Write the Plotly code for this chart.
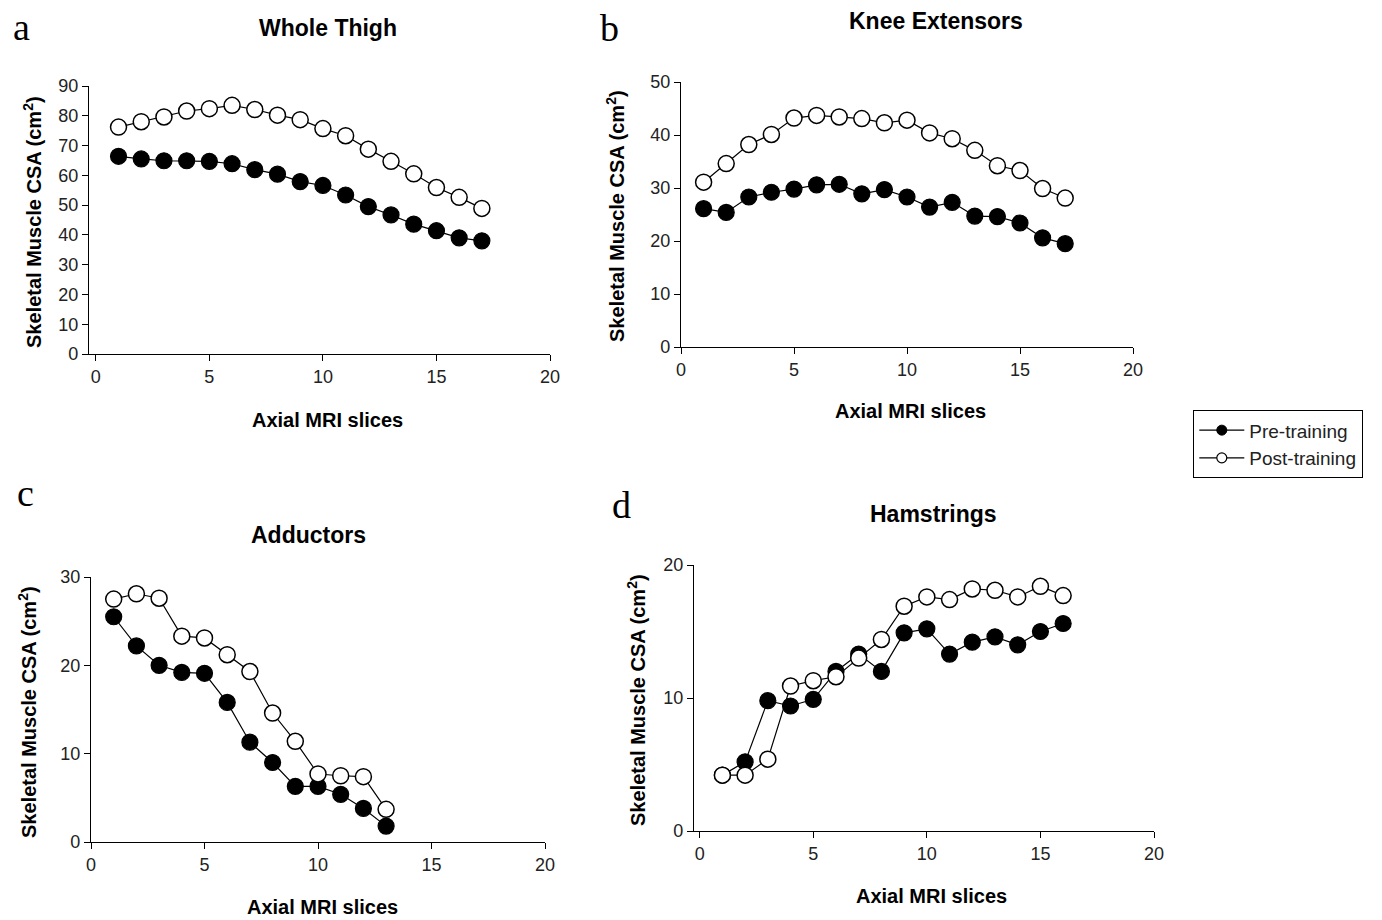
import plotly.graph_objects as go

# ---------------- data ----------------
slices_a = list(range(1, 18))
thigh_pre = [66.4, 65.5, 64.9, 64.9, 64.7, 63.9, 61.9, 60.4, 57.9, 56.6, 53.4, 49.5, 46.7, 43.6, 41.4, 39.0, 38.0]
thigh_post = [76.2, 78.0, 79.6, 81.6, 82.4, 83.5, 82.1, 80.2, 78.7, 75.7, 73.3, 68.8, 64.7, 60.5, 55.9, 52.6, 48.9]

slices_b = list(range(1, 18))
knee_pre = [26.1, 25.4, 28.3, 29.2, 29.8, 30.6, 30.7, 28.9, 29.7, 28.3, 26.4, 27.3, 24.7, 24.6, 23.4, 20.6, 19.5]
knee_post = [31.1, 34.6, 38.2, 40.1, 43.2, 43.7, 43.4, 43.1, 42.3, 42.8, 40.4, 39.3, 37.1, 34.2, 33.3, 29.9, 28.1]

slices_c = list(range(1, 14))
add_pre = [25.5, 22.2, 20.0, 19.2, 19.1, 15.8, 11.3, 9.0, 6.3, 6.3, 5.4, 3.8, 1.8]
add_post = [27.5, 28.1, 27.6, 23.3, 23.1, 21.2, 19.3, 14.6, 11.4, 7.7, 7.5, 7.4, 3.7]

slices_d = list(range(1, 17))
ham_pre = [4.2, 5.2, 9.8, 9.4, 9.9, 12.0, 13.3, 12.0, 14.9, 15.2, 13.3, 14.2, 14.6, 14.0, 15.0, 15.6]
ham_post = [4.2, 4.2, 5.4, 10.9, 11.3, 11.6, 13.0, 14.4, 16.9, 17.6, 17.4, 18.2, 18.1, 17.6, 18.4, 17.7]

titles = ["Whole Thigh", "Knee Extensors", "Adductors", "Hamstrings"]
letters = ["a", "b", "c", "d"]
series_names = ["Pre-training", "Post-training"]
x_title = "Axial MRI slices"
y_title = "Skeletal Muscle CSA (cm<sup>2</sup>)"

# ---------------- layout helpers ----------------
W, H = 1382, 920
OFF = 0  # body margin removed via post_script


def px(x):
    return (x - OFF) / W


def py(y):
    return 1 - (y - OFF) / H


def xdom(left, right):
    return [px(left), px(right)]


def ydom(top, bot):
    return [py(bot), py(top)]


panels = [
    dict(x=slices_a, pre=thigh_pre, post=thigh_post, xr=[-0.3, 20], yr=[0, 90],
         xd=xdom(89, 550), yd=ydom(86, 354),
         title=(328, 28), letter=(21, 27), xt=(327, 420), yt=(32, 222)),
    dict(x=slices_b, pre=knee_pre, post=knee_post, xr=[0, 20], yr=[0, 50],
         xd=xdom(681, 1133), yd=ydom(82, 347),
         title=(936, 21), letter=(609, 28), xt=(910, 411), yt=(616, 216)),
    dict(x=slices_c, pre=add_pre, post=add_post, xr=[0, 20], yr=[0, 30],
         xd=xdom(91, 545), yd=ydom(577, 842),
         title=(308, 535), letter=(25, 493), xt=(322, 907), yt=(27, 712)),
    dict(x=slices_d, pre=ham_pre, post=ham_post, xr=[-0.25, 20], yr=[0, 20],
         xd=xdom(694, 1154), yd=ydom(565, 831),
         title=(934, 514), letter=(621, 505), xt=(931, 896), yt=(636, 700)),
]

FONT = "Liberation Sans, Arial, sans-serif"
SERIF = "Liberation Serif, Times New Roman, serif"

fig = go.Figure()
annotations = []
layout_axes = {}

for i, p in enumerate(panels):
    n = i + 1
    xa = "x" if n == 1 else f"x{n}"
    ya = "y" if n == 1 else f"y{n}"
    fig.add_trace(go.Scatter(
        x=p["x"], y=p["pre"], xaxis=xa, yaxis=ya, mode="lines+markers",
        line=dict(color="black", width=1.2),
        marker=dict(symbol="circle", size=16, color="black", line=dict(color="black", width=1.2)),
        showlegend=False, cliponaxis=False))
    fig.add_trace(go.Scatter(
        x=p["x"], y=p["post"], xaxis=xa, yaxis=ya, mode="lines+markers",
        line=dict(color="black", width=1.2),
        marker=dict(symbol="circle", size=16, color="white", line=dict(color="black", width=1.5)),
        showlegend=False, cliponaxis=False))

    common = dict(showline=True, linecolor="black", linewidth=1.3, ticks="outside",
                  ticklen=6, tickwidth=1.3, tickcolor="black", showgrid=False, zeroline=False,
                  automargin=False,
                  tickfont=dict(family=FONT, size=18, color="#222"))
    layout_axes["xaxis" if n == 1 else f"xaxis{n}"] = dict(
        domain=p["xd"], range=p["xr"], anchor=ya, tick0=0, dtick=5, **common)
    layout_axes["yaxis" if n == 1 else f"yaxis{n}"] = dict(
        domain=p["yd"], range=p["yr"], anchor=xa, tick0=0, dtick=10, **common)

    tx, ty = p["title"]
    annotations.append(dict(text=f"<b>{titles[i]}</b>", x=px(tx), y=py(ty), xref="paper", yref="paper",
                            xanchor="center", yanchor="middle", showarrow=False,
                            font=dict(family=FONT, size=23, color="black")))
    lx, ly = p["letter"]
    annotations.append(dict(text=letters[i], x=px(lx), y=py(ly), xref="paper", yref="paper",
                            xanchor="center", yanchor="middle", showarrow=False,
                            font=dict(family=SERIF, size=38, color="black")))
    ax, ay = p["xt"]
    annotations.append(dict(text=f"<b>{x_title}</b>", x=px(ax), y=py(ay), xref="paper", yref="paper",
                            xanchor="center", yanchor="middle", showarrow=False,
                            font=dict(family=FONT, size=20, color="black")))
    yx, yy = p["yt"]
    annotations.append(dict(text=f"<b>{y_title}</b>", x=px(yx), y=py(yy), xref="paper", yref="paper",
                            xanchor="center", yanchor="middle", showarrow=False, textangle=-90,
                            font=dict(family=FONT, size=20, color="black")))

# legend-only traces
fig.add_trace(go.Scatter(
    x=[None], y=[None], mode="lines+markers", name=series_names[0], legendgroup="pre",
    line=dict(color="black", width=1.2),
    marker=dict(symbol="circle", size=10, color="black", line=dict(color="black", width=1))))
fig.add_trace(go.Scatter(
    x=[None], y=[None], mode="lines+markers", name=series_names[1], legendgroup="post",
    line=dict(color="black", width=1.2),
    marker=dict(symbol="circle", size=10, color="white", line=dict(color="black", width=1.2))))

fig.update_layout(
    width=W, height=H,
    margin=dict(l=0, r=0, t=0, b=0, pad=0, autoexpand=False),
    paper_bgcolor="white", plot_bgcolor="white",
    annotations=annotations,
    showlegend=True,
    hovermode=False,
    legend=dict(x=px(1193), y=py(410), xanchor="left", yanchor="top",
                bordercolor="black", borderwidth=1.3, bgcolor="white",
                font=dict(family=FONT, size=19, color="#222"),
                itemwidth=45, tracegroupgap=12, traceorder="normal"),
    **layout_axes,
)

fig.write_html("out.html", config={"displayModeBar": False},
               post_script="document.body.style.margin='0';")
